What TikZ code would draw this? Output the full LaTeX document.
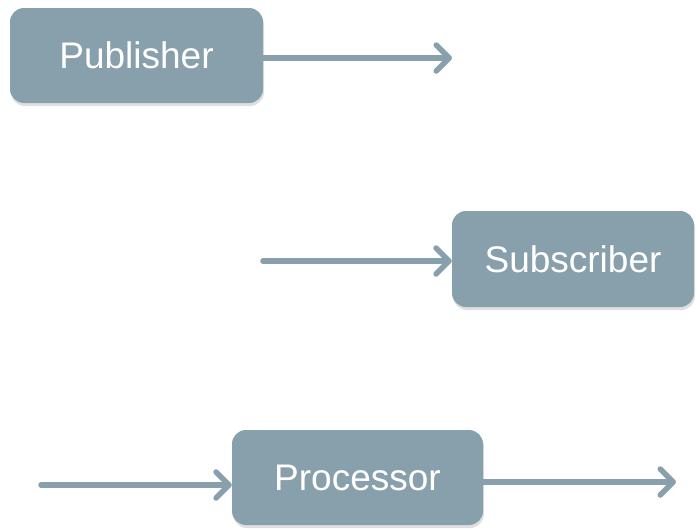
\documentclass[tikz,border=0pt]{standalone}
\usepackage{fontspec}
\setmainfont{Liberation Sans}
\usepackage{xcolor}
\usepackage{tikz}
\usetikzlibrary{positioning,arrows.meta,shadows}
\definecolor{slate}{HTML}{88A0AB}

\begin{document}
\begin{tikzpicture}[x=1pt,y=-1pt,every node/.style={font=\fontsize{37}{40}\selectfont,text=white},
  box/.style={fill=slate,rounded corners=14pt,inner sep=0pt,
    drop shadow={opacity=0.25,shadow xshift=1pt,shadow yshift=-3pt}},
  arr/.style={draw=slate,line width=5.5pt,line cap=round,-{Straight Barb[length=13pt,width=26pt,line cap=round,line join=round]}}]
  \useasboundingbox (0,0) rectangle (696,530);
  \node[box,minimum width=253pt,minimum height=95pt] (pub) at (136.5,55.5) {Publisher};
  \node[box,minimum width=242pt,minimum height=96pt] (sub) at (573,259) {Subscriber};
  \node[box,minimum width=251pt,minimum height=95pt] (proc) at (357.5,477.5) {Processor};
  \coordinate (pubout) at (452,58);
  \coordinate (subin) at (263,261);
  \coordinate (procin) at (41,485);
  \coordinate (procout) at (676,482);
  \draw[arr] (pub.east |- pubout) -- (pubout);
  \draw[arr] (subin) -- (subin -| sub.west);
  \draw[arr] (procin) -- (procin -| proc.west);
  \draw[arr] (proc.east |- procout) -- (procout);
\end{tikzpicture}
\end{document}
